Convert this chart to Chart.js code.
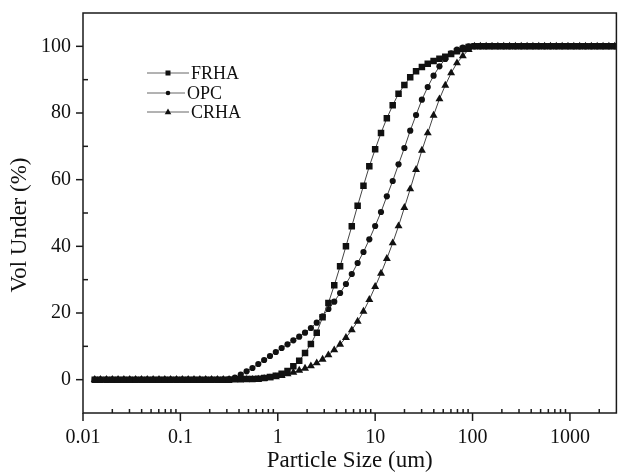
<!DOCTYPE html>
<html>
<head>
<meta charset="utf-8">
<script src="https://cdn.jsdelivr.net/npm/chart.js@4.4.0/dist/chart.umd.min.js"></script>
<style>
  html, body { margin: 0; padding: 0; background: #ffffff; }
  #wrap { width: 621px; height: 472px; }
</style>
</head>
<body>
<div id="wrap"><canvas id="c" width="621" height="472"></canvas></div>
<script>
// Particle size classes (um)
const sizes = [0.0132,0.0151,0.0174,0.0200,0.0229,0.0263,0.0302,0.0347,0.0398,0.0457,
  0.0525,0.0603,0.0692,0.0794,0.0912,0.1047,0.1202,0.1380,0.1585,0.1820,
  0.2089,0.2399,0.2754,0.3162,0.3631,0.4169,0.4786,0.5495,0.6310,0.7244,
  0.8318,0.9550,1.096,1.259,1.445,1.660,1.905,2.188,2.512,2.884,
  3.311,3.802,4.365,5.012,5.754,6.607,7.586,8.710,10.00,11.48,
  13.18,15.14,17.38,19.95,22.91,26.30,30.20,34.67,39.81,45.71,
  52.48,60.26,69.18,79.43,91.20,104.7,120.2,138.0,158.5,182.0,
  208.9,239.9,275.4,316.2,363.1,416.9,478.6,549.5,631.0,724.4,
  831.8,955.0,1096,1259,1445,1660,1905,2188,2512,2884];

// Cumulative volume under (%)
const frha = [0,0,0,0,0,0,0,0,0,0,0,0,0,0,0,0,0,0,0,0,0,0,0,0,
  0.1,0.1,0.2,0.2,0.3,0.5,0.8,1.2,1.8,2.6,
  4.0,5.7,8.0,10.7,14.1,18.7,23.0,28.3,34.0,40.0,
  46.0,52.2,58.2,64.0,69.1,74.0,78.4,82.3,85.8,88.4,
  90.7,92.5,93.8,94.8,95.6,96.3,96.9,97.7,98.5,99.2,
  99.8,
  100,100,100,100,100,100,100,100,100,100,100,100,100,100,100,100,100,100,100,100,100,100,100,100,100];

const opc = [0,0,0,0,0,0,0,0,0,0,0,0,0,0,0,0,0,0,0,0,0,0,0,
  0.2,0.6,1.5,2.5,3.5,4.7,5.9,7.1,8.3,9.5,
  10.6,11.8,12.9,14.1,15.5,17.1,19.0,21.2,23.4,26.0,
  28.7,31.7,35.0,38.3,42.1,46.1,50.3,55.0,59.6,64.6,
  69.5,74.7,79.4,84.0,87.8,91.2,94.0,96.2,97.9,99.0,
  99.6,
  100,100,100,100,100,100,100,100,100,100,100,100,100,100,100,100,100,100,100,100,100,100,100,100,100,100];

const crha = [0,0,0,0,0,0,0,0,0,0,0,0,0,0,0,0,0,0,0,0,0,0,0,0,0,0,0,0,
  0.1,0.3,0.5,0.8,1.2,1.7,2.2,2.8,3.4,4.1,
  5.0,6.1,7.4,8.9,10.6,12.6,14.9,17.5,20.5,24.0,
  27.9,31.9,36.3,41.0,46.1,51.6,57.2,63.0,68.8,74.0,
  79.3,84.2,88.3,92.0,95.0,97.1,99.0,
  100,100,100,100,100,100,100,100,100,100,100,100,100,100,100,100,100,100,100,100,100,100,100,100,100];

const seriesNames = ['FRHA', 'OPC', 'CRHA'];
const xTickValues = [0.01, 0.1, 1, 10, 100, 1000];
const xTickLabels = ['0.01', '0.1', '1', '10', '100', '1000'];
const xMinorMultipliers = [2, 3, 4, 5, 6, 7, 8, 9];
const yTickValues = [0, 20, 40, 60, 80, 100];
const yTickLabels = ['0', '20', '40', '60', '80', '100'];
const yMinorValues = [10, 30, 50, 70, 90];
const xTitle = 'Particle Size (um)';
const yTitle = 'Vol Under (%)';

const FONT = '"Liberation Serif", "Times New Roman", serif';
const INK = '#111111';
const LINE = '#444444';
const pointStyles = ['rect', 'circle', 'triangle'];
const pointRadii = [4.6, 3.1, 4.6];

function toXY(vals) { return sizes.map((s, i) => ({ x: s, y: vals[i] })); }
const allSeries = [frha, opc, crha];

const datasets = allSeries.map((vals, i) => ({
  label: seriesNames[i],
  data: toXY(vals),
  borderColor: LINE,
  borderWidth: 1,
  pointStyle: pointStyles[i],
  pointRadius: pointRadii[i],
  pointBackgroundColor: INK,
  pointBorderColor: INK,
  pointBorderWidth: 0,
  tension: 0,
  fill: false
}));

const framePlugin = {
  id: 'frame',
  afterDraw(chart) {
    const { ctx, chartArea: { left, right, top, bottom }, scales: { x, y } } = chart;
    ctx.save();
    ctx.strokeStyle = '#1a1a1a';
    ctx.lineWidth = 1.5;
    ctx.strokeRect(left, top, right - left, bottom - top);
    const line = (x1, y1, x2, y2) => { ctx.beginPath(); ctx.moveTo(x1, y1); ctx.lineTo(x2, y2); ctx.stroke(); };
    xTickValues.forEach(v => { const p = x.getPixelForValue(v); line(p, bottom, p, bottom + 8); });
    xTickValues.forEach(d => xMinorMultipliers.forEach(m => {
      const v = d * m;
      if (v < x.max) { const p = x.getPixelForValue(v); line(p, bottom, p, bottom - 4); }
    }));
    yTickValues.forEach(v => { const p = y.getPixelForValue(v); line(left - 7, p, left, p); });
    yMinorValues.forEach(v => { const p = y.getPixelForValue(v); line(left, p, left + 5, p); });

    // y axis title
    ctx.save();
    ctx.translate(20, 225);
    ctx.rotate(-Math.PI / 2);
    ctx.font = '23px ' + FONT;
    ctx.fillStyle = INK;
    ctx.textAlign = 'center';
    ctx.textBaseline = 'middle';
    ctx.fillText(yTitle, 0, 0);
    ctx.restore();

    // legend
    const rows = [73, 93, 112];
    const textX = [191, 187, 191];
    ctx.font = '18px ' + FONT;
    ctx.textBaseline = 'middle';
    ctx.textAlign = 'left';
    seriesNames.forEach((name, i) => {
      const yy = rows[i];
      ctx.strokeStyle = '#666666';
      ctx.lineWidth = 1;
      line(147, yy, textX[i] - 2, yy);
      ctx.fillStyle = INK;
      const cx = 168;
      if (i === 0) { ctx.fillRect(cx - 2.5, yy - 2.5, 5, 5); }
      else if (i === 1) { ctx.beginPath(); ctx.arc(cx, yy, 2.3, 0, Math.PI * 2); ctx.fill(); }
      else { ctx.beginPath(); ctx.moveTo(cx, yy - 3.5); ctx.lineTo(cx + 3.3, yy + 2.2); ctx.lineTo(cx - 3.3, yy + 2.2); ctx.closePath(); ctx.fill(); }
      ctx.fillStyle = INK;
      ctx.fillText(name, textX[i], yy + 1);
    });
    ctx.restore();
  }
};

new Chart(document.getElementById('c'), {
  type: 'line',
  data: { datasets },
  options: {
    responsive: false,
    animation: false,
    devicePixelRatio: 1,
    layout: { padding: { top: 13, right: 1, left: 0, bottom: 0 } },
    plugins: { legend: { display: false }, tooltip: { enabled: false } },
    scales: {
      x: {
        type: 'logarithmic',
        position: 'bottom',
        min: 0.01,
        max: 3000,
        grid: { display: false, drawTicks: false },
        border: { display: false },
        afterBuildTicks: s => { s.ticks = xTickValues.map(v => ({ value: v })); },
        afterFit: s => { s.height = 59; s.paddingLeft = 0; s.paddingRight = 0; },
        ticks: {
          autoSkip: false, maxRotation: 0, padding: 12.5, color: INK,
          font: { family: FONT, size: 20 },
          callback: (v) => { const i = xTickValues.findIndex(t => Math.abs(t - v) / t < 1e-6); return i >= 0 ? xTickLabels[i] : ''; }
        },
        title: {
          display: true, text: xTitle, color: INK,
          font: { family: FONT, size: 23, lineHeight: 1 },
          padding: { top: 0, bottom: 0 }
        }
      },
      y: {
        type: 'linear',
        min: -10,
        max: 110,
        grid: { display: false, drawTicks: false },
        border: { display: false },
        afterBuildTicks: s => { s.ticks = yTickValues.map(v => ({ value: v })); },
        afterFit: s => { s.width = 83; s.paddingTop = 0; s.paddingBottom = 0; },
        ticks: {
          padding: 12, color: INK,
          font: { family: FONT, size: 20 },
          callback: (v) => { const i = yTickValues.indexOf(v); return i >= 0 ? yTickLabels[i] : ''; }
        },
        title: { display: false }
      }
    }
  },
  plugins: [framePlugin]
});
</script>
</body>
</html>
